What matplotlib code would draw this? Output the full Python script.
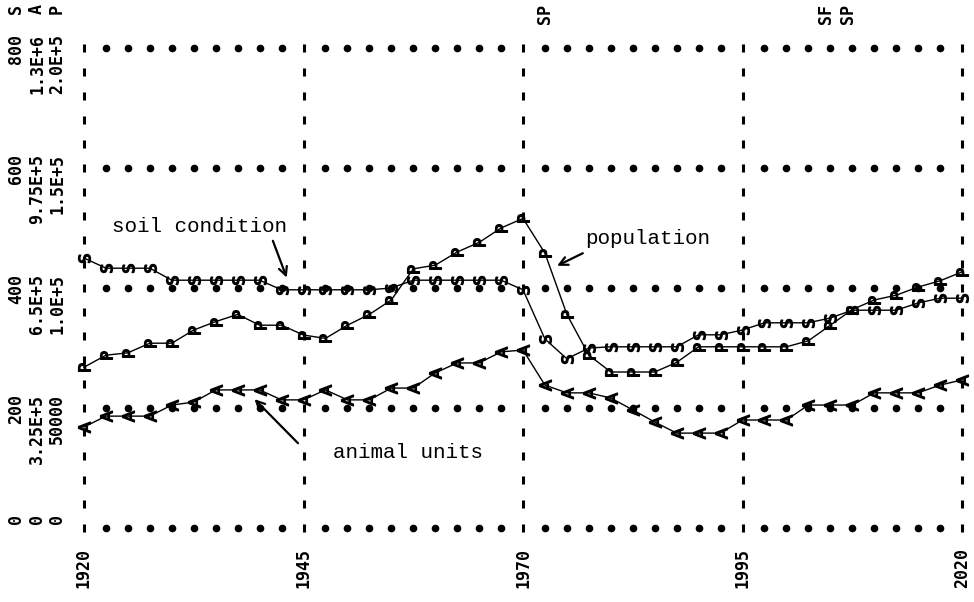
import matplotlib
matplotlib.use('Agg')

import matplotlib.pyplot as plt
import numpy as np
from matplotlib.markers import MarkerStyle
from matplotlib.transforms import Affine2D

plt.rcParams['mathtext.fontset'] = 'custom'
plt.rcParams['mathtext.rm'] = 'DejaVu Sans Mono'
plt.rcParams['mathtext.default'] = 'regular'

# scales printed on the left (S, A, P)
s_ticks = ['0', '200', '400', '600', '800']
a_ticks = ['0', '3.25E+5', '6.5E+5', '9.75E+5', '1.3E+6']
p_ticks = ['0', '50000', '1.0E+5', '1.5E+5', '2.0E+5']
s_max = 800.0
a_max = 1.3e6
p_max = 2.0e5
year_ticks = [1920, 1945, 1970, 1995, 2020]

years = [1920, 1922.5, 1925, 1927.5, 1930, 1932.5, 1935, 1937.5, 1940, 1942.5,
         1945, 1947.5, 1950, 1952.5, 1955, 1957.5, 1960, 1962.5, 1965, 1967.5,
         1970, 1972.5, 1975, 1977.5, 1980, 1982.5, 1985, 1987.5, 1990, 1992.5,
         1995, 1997.5, 2000, 2002.5, 2005, 2007.5, 2010, 2012.5, 2015, 2017.5,
         2020]

soil = [450, 433, 433, 433, 413, 413, 413, 413, 413, 397,
        397, 397, 397, 397, 400, 413, 413, 413, 413, 413,
        397, 315, 282, 300, 302, 302, 302, 302, 322, 322,
        330, 342, 342, 342, 350, 363, 363, 363, 375, 383,
        383]

animals = [273500, 303000, 303000, 303000, 333000, 341000, 374000, 374000, 374000, 347000,
           347000, 374000, 347000, 347000, 379000, 379000, 420000, 447000, 447000, 477000,
           482000, 387000, 366000, 366000, 352000, 320000, 287000, 257000, 257000, 257000,
           292500, 292500, 292500, 333000, 333000, 333000, 366000, 366000, 366000, 387000,
           401000]

population = [67000, 72000, 73000, 77000, 77000, 82500, 86000, 89000, 84500, 84500,
              80400, 79000, 84500, 89000, 95000, 108000, 109500, 115000, 119000, 125000,
              129000, 114500, 89000, 72000, 65000, 65000, 65000, 69000, 75500, 75500,
              75500, 75500, 75500, 78000, 84500, 91000, 95000, 97000, 100400, 103000,
              106700]

W, H = 974, 602
fig = plt.figure(figsize=(W / 100, H / 100), dpi=100)
ax = fig.add_axes([84 / W, 1 - 528 / H, (962 - 84) / W, (528 - 48) / H])
ax.set_xlim(1920, 2020)
ax.set_ylim(0, s_max)
ax.axis('off')

# grid: rows of dots and columns of "!" marks
dot_x = [x for x in np.arange(1920, 2020.1, 2.5) if (x - 1920) % 25 != 0]
for k in range(5):
    yv = k * s_max / 4
    ax.plot(dot_x, [yv] * len(dot_x), ls='none', marker='o', ms=4.5,
            color='black', clip_on=False)
bar_y = np.arange(0, s_max + 1, s_max / 20)
for yr in year_ticks:
    ax.plot([yr] * len(bar_y), bar_y, ls='none', marker='|', ms=5.5, mew=2.2,
            color='black', clip_on=False)

mono = 'DejaVu Sans Mono'

def curve(vals, scale, letter):
    yy = [v * s_max / scale for v in vals]
    mk = MarkerStyle('$' + letter + '$', transform=Affine2D().rotate_deg(90))
    ax.plot(years, yy, color='black', lw=1.0, marker=mk, ms=8.5,
            mec='black', mfc='black', clip_on=False)

curve(soil, s_max, 'S')
curve(animals, a_max, 'A')
curve(population, p_max, 'P')

# left scale labels, rotated like the printout
cols = [(16, s_ticks, 'S'), (37, a_ticks, 'A'), (57, p_ticks, 'P')]
for xc, labs, head in cols:
    for k, lab in enumerate(labs):
        ypix = 528 - k * 120 - 14
        fig.text(xc / W, 1 - ypix / H, lab, rotation=90, rotation_mode='anchor',
                 ha='right', va='center', fontsize=12, family=mono,
                 fontweight='bold')
    fig.text(xc / W, 1 - 4 / H, head, rotation=90, rotation_mode='anchor',
             ha='right', va='center', fontsize=12, family=mono, fontweight='bold')

# year labels below
for yr in year_ticks:
    xp = 84 + (yr - 1920) * (962 - 84) / 100
    fig.text(xp / W, 1 - 548 / H, str(yr), rotation=90, rotation_mode='anchor',
             ha='right', va='center', fontsize=12, family=mono, fontweight='bold')

# overlap notes at top
for xp, txt in [(545, 'SP'), (826, 'SF'), (848, 'SP')]:
    fig.text(xp / W, 1 - 4 / H, txt, rotation=90, rotation_mode='anchor',
             ha='right', va='center', fontsize=12, family=mono, fontweight='bold')

# curve names
typew = 'Liberation Mono'
arr = dict(arrowstyle='->,head_length=0.6,head_width=0.3', color='black', lw=1.6)
ax.text(1933.2, 502, 'soil condition', ha='center', va='center',
        fontsize=15, family=typew)
ax.annotate('', xy=(1943.2, 413), xytext=(1941.4, 483), arrowprops=arr)
ax.text(1984.2, 483, 'population', ha='center', va='center',
        fontsize=15, family=typew)
ax.annotate('', xy=(1973.6, 435), xytext=(1977.1, 460), arrowprops=arr)
ax.text(1956.9, 125, 'animal units', ha='center', va='center',
        fontsize=15, family=typew)
ax.annotate('', xy=(1939.2, 218), xytext=(1944.6, 138), arrowprops=arr)

fig.savefig('out.png', dpi=100, facecolor='white')
